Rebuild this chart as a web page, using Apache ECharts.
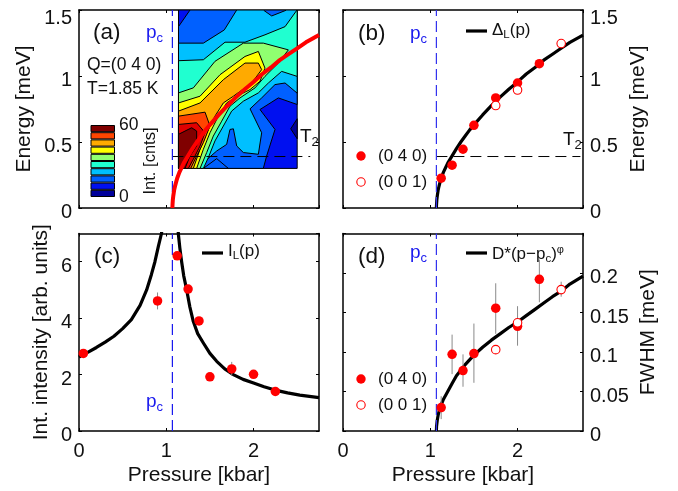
<!DOCTYPE html>
<html><head><meta charset="utf-8">
<style>html,body{margin:0;padding:0;background:#fff}#c{width:678px;height:491px}</style>
<script src="https://cdn.jsdelivr.net/npm/echarts@6/dist/echarts.min.js"></script></head>
<body><div id="c"></div>
<script>
const pc = 1.07, t2 = 0.39;
const curveP = [1.07,1.072,1.075,1.08,1.09,1.1,1.11,1.125,1.15,1.175,1.2,1.25,1.3,1.35,1.4,1.45,1.5,1.6,1.7,1.8,1.9,2,2.1,2.2,2.3,2.4,2.5,2.6,2.75];
const curveE = [0,0.03,0.06,0.09,0.135,0.165,0.19,0.225,0.27,0.305,0.34,0.395,0.45,0.5,0.545,0.59,0.63,0.705,0.775,0.84,0.9,0.955,1.015,1.065,1.12,1.165,1.21,1.255,1.31];
const e040P = [1.125,1.25,1.375,1.5,1.75,2,2.25];
const e040 = [0.226,0.324,0.445,0.626,0.834,0.947,1.093];
const e001P = [1.75,2,2.5];
const e001 = [0.776,0.894,1.246];
const intLeftP = [0,0.05,0.1,0.2,0.3,0.4,0.5,0.6,0.7,0.775,0.83,0.87,0.91,0.945,0.97];
const intLeft = [2.62,2.72,2.79,2.96,3.15,3.36,3.63,3.95,4.45,5.0,5.55,6.0,6.55,7.0,7.6];
const intRightP = [1.13,1.138,1.155,1.176,1.2,1.234,1.27,1.31,1.36,1.425,1.5,1.578,1.67,1.768,1.88,2,2.12,2.246,2.39,2.53,2.75];
const intRight = [7.6,7.0,6.5,6.0,5.5,5.0,4.4,3.88,3.45,3.12,2.75,2.47,2.2,2.0,1.83,1.7,1.57,1.45,1.35,1.27,1.18];
const intPtsP = [0.05,0.9,1.125,1.25,1.375,1.5,1.75,2,2.25];
const intPts = [2.75,4.61,6.21,5.03,3.9,1.92,2.2,2.01,1.4];
const intErr = [0.1,0.3,0.1,0.1,0.1,0.1,0.25,0.1,0.1];
const fwCurveP = [1.07,1.072,1.08,1.09,1.11,1.15,1.2,1.25,1.3,1.4,1.5,1.6,1.7,1.8,1.9,2,2.1,2.2,2.3,2.4,2.5,2.6,2.75];
const fwCurve = [0,0.006,0.0135,0.02,0.029,0.04,0.05,0.06,0.07,0.084,0.096,0.106,0.115,0.123,0.131,0.138,0.146,0.154,0.162,0.17,0.177,0.186,0.196];
const f040P = [1.125,1.25,1.375,1.5,1.75,2,2.25];
const f040 = [0.0297,0.097,0.0765,0.098,0.1555,0.1325,0.192];
const f040Lo = [0.015,0.072,0.056,0.061,0.123,0.108,0.163];
const f040Hi = [0.044,0.122,0.097,0.136,0.187,0.158,0.217];
const f001P = [1.75,2,2.5];
const f001 = [0.103,0.137,0.179];
const f001Lo = [0.103,0.137,0.17];
const f001Hi = [0.103,0.137,0.189];

const mapLevels = [
 {color:'#0010f0',poly:[[1.14,0.3],[1.14,1.5],[2.5,1.5],[2.5,0.3]]},
 {color:'#00009a',poly:[[2.5,0.676],[2.426,0.6],[2.5,0.525]]},
 {color:'#0060ff',poly:[[1.14,1.374],[1.272,1.5],[2.5,1.5],[2.5,0.784],[2.284,0.834],[2.074,0.746],[2.246,0.595],[2.15,0.394],[2.112,0.3],[1.14,0.3]]},
 {color:'#0060ff',poly:[[1.425,0.3],[1.578,0.374],[1.711,0.3]]},
 {color:'#00c0ff',poly:[[1.14,1.249],[1.425,1.249],[1.665,1.349],[1.807,1.5],[2.112,1.5],[2.208,1.455],[2.38,1.5],[2.5,1.5],[2.5,0.87],[2.361,0.947],[2.246,0.935],[2.093,0.834],[1.96,0.751],[2.093,0.57],[2.055,0.407],[1.883,0.42],[1.807,0.47],[1.769,0.6],[1.73,0.595],[1.692,0.482],[1.578,0.432],[1.425,0.344],[1.394,0.3],[1.14,0.3]]},
 {color:'#20ffd0',poly:[[1.14,1.116],[1.425,1.123],[1.673,1.256],[1.902,1.256],[2.131,1.312],[2.361,1.374],[2.498,1.5],[2.5,1.5],[2.5,0.997],[2.322,1.035],[2.17,0.947],[2.055,0.872],[1.883,0.809],[1.749,0.734],[1.654,0.621],[1.558,0.508],[1.482,0.382],[1.425,0.3],[1.14,0.3]]},
 {color:'#90ff70',poly:[[1.14,0.872],[1.31,0.91],[1.558,1.111],[1.883,1.249],[2.112,1.249],[2.399,1.198],[2.284,1.098],[2.131,0.997],[2.017,0.91],[1.845,0.834],[1.73,0.771],[1.635,0.658],[1.539,0.545],[1.463,0.42],[1.387,0.3],[1.14,0.3]]},
 {color:'#ffff00',poly:[[1.14,0.796],[1.387,0.847],[1.616,1.01],[1.902,1.148],[2.055,1.186],[2.131,1.06],[2.074,0.96],[1.96,0.897],[1.807,0.847],[1.692,0.796],[1.597,0.696],[1.501,0.57],[1.425,0.445],[1.348,0.3],[1.14,0.3]]},
 {color:'#ffaa00',poly:[[1.14,0.734],[1.387,0.796],[1.654,0.972],[1.902,1.098],[2.055,1.098],[2.093,1.048],[1.979,0.947],[1.769,0.847],[1.654,0.796],[1.558,0.696],[1.463,0.57],[1.387,0.445],[1.31,0.3],[1.14,0.3]]},
 {color:'#ff4500',poly:[[1.14,0.696],[1.444,0.726],[1.501,0.621],[1.425,0.495],[1.348,0.394],[1.28,0.3],[1.14,0.3]]},
 {color:'#e00000',poly:[[1.14,0.633],[1.348,0.646],[1.444,0.57],[1.387,0.47],[1.31,0.369],[1.253,0.3],[1.14,0.3]]},
 {color:'#800000',poly:[[1.14,0.558],[1.291,0.608],[1.348,0.583],[1.348,0.47],[1.272,0.394],[1.215,0.3],[1.14,0.3]]}
];
const barColors = ['#00009a','#0010f0','#0060ff','#00c0ff','#20ffd0','#90ff70','#ffff00','#ffaa00','#ff4500','#800000'];
const barStep = [6,6,6,6,6,6,6,6,6,6];

const FONT = '"Liberation Sans", Arial, sans-serif';
const AX = 20, TI = 21;
const zip = (a,b)=>a.map((v,i)=>[v,b[i]]);
const grids = [
 {left:79,top:10,width:240,height:198},
 {left:343,top:10,width:240,height:198},
 {left:79,top:233.5,width:240,height:197.5},
 {left:343,top:233.5,width:240,height:197.5},
 {left:90.5,top:125,width:24.5,height:72}
];
const xAxis=[], yAxis=[];
const line={show:true,onZero:false,lineStyle:{color:'#000',width:1.5}};
const tick={show:true,inside:true,length:3,lineStyle:{color:'#000',width:1}};
function addX(g,labels,name){
 const base={gridIndex:g,type:'value',min:0,max:2.75,interval:1,axisLine:line,axisTick:tick,splitLine:{show:false}};
 xAxis.push({...base,position:'bottom',name:name||'',nameLocation:'middle',nameGap:34,
   nameTextStyle:{fontFamily:FONT,fontSize:TI,color:'#111'},
   axisLabel:{show:labels,showMaxLabel:false,margin:10,fontFamily:FONT,fontSize:AX,color:'#111'}});
 xAxis.push({...base,position:'top',axisLabel:{show:false}});
}
const energyFmt = v => v===1.5 ? '{hi|1.5}' : String(v);
function addY(g,side,max,interval,name,gap,fmt){
 const base={gridIndex:g,type:'value',min:0,max,interval,axisLine:line,axisTick:tick,splitLine:{show:false}};
 yAxis.push({...base,position:side,name,nameLocation:'middle',nameRotate:90,nameGap:gap,
   nameTextStyle:{fontFamily:FONT,fontSize:TI,color:'#111'},
   axisLabel:{show:true,showMaxLabel:fmt?true:false,margin:7,padding:[9,0,0,0],fontFamily:FONT,fontSize:AX,color:'#111',formatter:fmt,
     rich:{hi:{fontFamily:FONT,fontSize:AX,color:'#111',padding:[7,0,0,0]}}}});
 yAxis.push({...base,position:side==='left'?'right':'left',axisLabel:{show:false}});
}
addX(0,false); addY(0,'left',1.5,0.5,'Energy [meV]',44,energyFmt);
addX(1,false); addY(1,'right',1.5,0.5,'Energy [meV]',45,energyFmt);
addX(2,true,'Pressure [kbar]'); addY(2,'left',7,2,'Int. intensity [arb. units]',27);
addX(3,true,'Pressure [kbar]'); addY(3,'right',0.25,0.05,'FWHM [meV]',55);
xAxis.push({gridIndex:4,type:'category',data:['c'],show:false});
yAxis.push({gridIndex:4,type:'value',position:'right',min:0,max:60,interval:60,splitLine:{show:false},
  axisLine:{show:false},axisTick:{show:false},name:'Int. [cnts]',nameLocation:'middle',nameRotate:90,nameGap:26,
  nameTextStyle:{fontFamily:FONT,fontSize:16.5,color:'#111'},
  axisLabel:{margin:4,fontFamily:FONT,fontSize:17.5,color:'#111'}});

const axisOf = i=>({xAxisIndex:i*2,yAxisIndex:i*2});
const series=[];
function lineS(i,data,color,width,dash,z){
 series.push({type:'line',...axisOf(i),data,symbol:'none',smooth:false,clip:true,z:z||3,silent:true,
   lineStyle:{color,width,type:dash||'solid',cap:'butt',join:'round'}});
}
function dots(i,data,open,z){
 series.push({type:'scatter',...axisOf(i),data,symbol:'circle',symbolSize:open?8.5:9.5,z:z||6,silent:true,
   itemStyle:open?{color:'#fff',borderColor:'#f00',borderWidth:1.1,opacity:1}:{color:'#f00',opacity:1}});
}
function errs(i,xs,lo,hi){
 series.push({type:'custom',...axisOf(i),data:xs.map((x,k)=>[x,lo[k],hi[k]]),z:4,silent:true,clip:true,
  renderItem:(p,api)=>{const a=api.coord([api.value(0),api.value(1)]),b=api.coord([api.value(0),api.value(2)]);
    return {type:'line',shape:{x1:a[0],y1:a[1],x2:b[0],y2:b[1]},style:{stroke:'#8a8a8a',lineWidth:1}};}});
}
// (a) contour map
series.push({type:'custom',...axisOf(0),data:mapLevels.map((_,k)=>[k]),z:2,silent:true,clip:true,
 renderItem:(p,api)=>{const L=mapLevels[api.value(0)];
   return {type:'polygon',shape:{points:L.poly.map(q=>api.coord(q))},style:{fill:L.color,stroke:'#000',lineWidth:1}};}});
const dashT=[11,6], dashP=[11,5];
lineS(0,[[pc,t2],[2.65,t2]],'#000',1,dashT,3);
lineS(0,[[pc,0],[pc,1.5]],'#1a1aee',1.2,dashP,3);
lineS(0,zip(curveP,curveE),'#f00',4,null,5);
// (b)
lineS(1,[[pc,t2],[2.72,t2]],'#000',1,dashT,3);
lineS(1,zip(curveP,curveE),'#000',3.2,null,3);
lineS(1,[[pc,0],[pc,1.5]],'#3333ee',1.2,dashP,4);
dots(1,zip(e040P,e040)); dots(1,zip(e001P,e001),true,7);
// (c)
lineS(2,[[pc,0],[pc,7]],'#1a1aee',1.2,dashP,3);
lineS(2,zip(intLeftP,intLeft),'#000',3.2);
lineS(2,zip(intRightP,intRight),'#000',3.2);
errs(2,intPtsP,intPts.map((v,k)=>v-intErr[k]),intPts.map((v,k)=>v+intErr[k]));
dots(2,zip(intPtsP,intPts));
// (d)
lineS(3,zip(fwCurveP,fwCurve),'#000',3.2);
lineS(3,[[pc,0],[pc,0.25]],'#3333ee',1.2,dashP,4);
errs(3,f040P,f040Lo,f040Hi); errs(3,f001P,f001Lo,f001Hi);
dots(3,zip(f040P,f040)); dots(3,zip(f001P,f001),true,7);
// colour bar
barColors.forEach((c,k)=>series.push({type:'bar',xAxisIndex:8,yAxisIndex:8,stack:'cb',data:[barStep[k]],barWidth:'100%',silent:true,
  itemStyle:{color:c,borderColor:'#000',borderWidth:1}}));

const rich={
 n:{fontFamily:FONT,fontSize:17,fill:'#111'},
 s:{fontFamily:FONT,fontSize:11.5,fill:'#111',padding:[9,0,0,0]},
 u:{fontFamily:FONT,fontSize:11,fill:'#111',padding:[0,0,9,0]},
 bn:{fontFamily:FONT,fontSize:19,fill:'#1a1aee'},
 bs:{fontFamily:FONT,fontSize:13,fill:'#1a1aee',padding:[10,0,0,0]},
 tn:{fontFamily:FONT,fontSize:19,fill:'#111'},
 ts:{fontFamily:FONT,fontSize:13,fill:'#111',padding:[10,0,0,0]}
};
const graphic=[];
function T(x,y,text,size){graphic.push({type:'text',x,y,z:20,silent:true,style:{text,fontFamily:FONT,fontSize:size,fill:'#111',verticalAlign:'middle',align:'left',rich}});}
function L(x1,x2,y){graphic.push({type:'line',z:20,silent:true,shape:{x1,y1:y,x2,y2:y},style:{stroke:'#000',lineWidth:3.2}});}
function D(x,y,open){graphic.push({type:'circle',z:20,silent:true,shape:{cx:x,cy:y,r:open?4.2:4.7},style:open?{fill:'#fff',stroke:'#f00',lineWidth:1.1}:{fill:'#f00'}});}
T(93,33,'(a)',22.5); T(358,34,'(b)',22.5); T(94,257,'(c)',22.5); T(358,257,'(d)',22.5);
T(87,65,'Q=(0 4 0)',17.5); T(87,89,'T=1.85 K',17.5);
T(146,33,'{bn|p}{bs|c}',17); T(410,34,'{bn|p}{bs|c}',17); T(146,402,'{bn|p}{bs|c}',17); T(410,253,'{bn|p}{bs|c}',17);
T(300,137,'{tn|T}{ts|2}',17); T(563,140,'{tn|T}{ts|2}',17);
L(466,487,31); T(492,30,'{n|Δ}{s|L}{n|(p)}',17);
L(202,223,253); T(228,251,'{n|I}{s|L}{n|(p)}',17);
L(466,487,253); T(492,254,'{n|D*(p−p}{s|c}{n|)}{u|φ}',17);
D(361,156); T(378,156,'(0 4 0)',17); D(361,182,true); T(378,182,'(0 0 1)',17);
D(361,379); T(378,379,'(0 4 0)',17); D(361,405,true); T(378,405,'(0 0 1)',17);

const chart=echarts.init(document.getElementById('c'),null,{renderer:'canvas'});
chart.setOption({animation:false,backgroundColor:'#fff',textStyle:{fontFamily:FONT},grid:grids,xAxis,yAxis,series,graphic});
</script></body></html>
